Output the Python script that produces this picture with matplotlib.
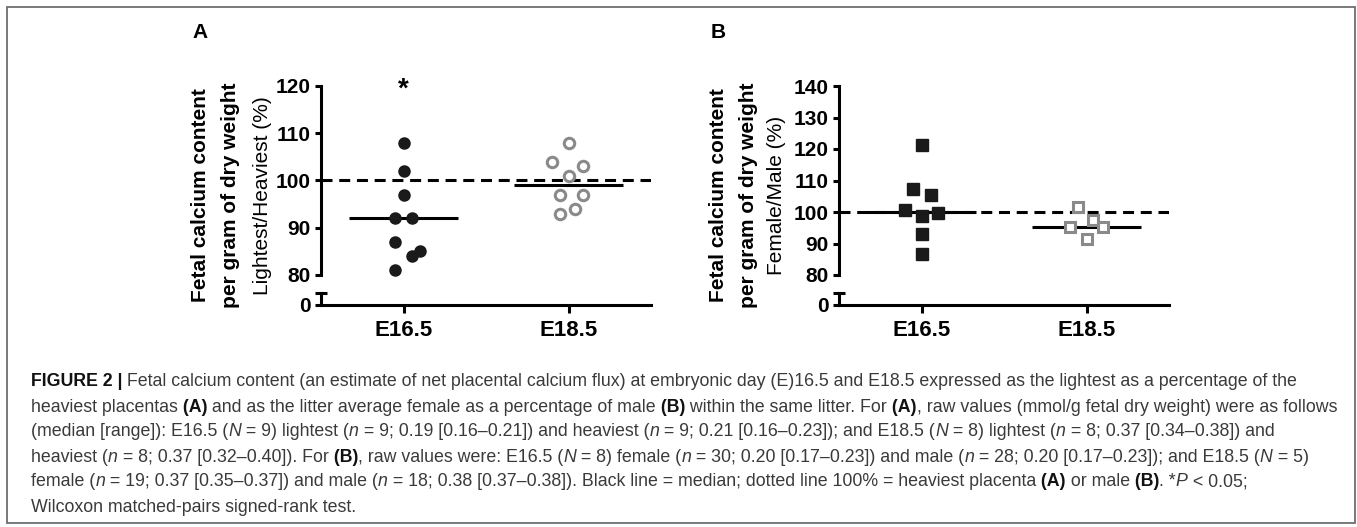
import numpy as np
import matplotlib
matplotlib.use('Agg')
from matplotlib import pyplot as plt
from matplotlib import font_manager
from matplotlib.patches import Rectangle

# Data (percent values)
CATEGORIES = ['E16.5', 'E18.5']
A_E165 = [108, 102, 97, 92, 92, 87, 84, 85, 81]
A_E185 = [108, 104, 103, 101, 97, 97, 94, 93]
B_E165 = [121.2, 107.3, 105.4, 100.7, 98.6, 99.6, 93, 86.8]
B_E185 = [101.5, 95.2, 97.6, 95.2, 91.5]

# horizontal scatter of the dots, in category units
A_E165_DX = [0, 0, 0, -0.05, 0.05, -0.05, 0.05, 0.1, -0.05]
A_E185_DX = [0, -0.1, 0.09, 0, -0.05, 0.09, 0.04, -0.05]
B_E165_DX = [0, -0.05, 0.055, -0.1, 0, 0.1, 0, 0]
B_E185_DX = [-0.05, -0.1, 0.04, 0.1, 0]

# Constants
W, H = 1357, 527
BLACK = '#1a1a1a'
GREY = '#8a8a8a'
TEXT_GREY = '#3a3a3a'

names = set(f.name for f in font_manager.fontManager.ttflist)
PANEL_FONT = 'Liberation Sans' if 'Liberation Sans' in names else 'DejaVu Sans'
CAPTION_FONT = PANEL_FONT
CAPTION_SIZE = 12.75

plt.rcParams['font.family'] = PANEL_FONT


def fx(px):
    return px / W


def fy(py):
    return 1 - py / H


def draw_panel(fig, left_px, ylim, yticks, groups, letter, ylabel_lines, ylabel_x):
    ax = fig.add_axes([fx(left_px), fy(275), 330 / W, (275 - 86) / H])
    axb = fig.add_axes([fx(left_px), fy(305), 330 / W, 12 / H])

    for a in (ax, axb):
        a.set_xlim(-0.5, 1.5)
        for s in ('top', 'right'):
            a.spines[s].set_visible(False)
        for s in ('left', 'bottom'):
            a.spines[s].set_linewidth(2.2)
        a.patch.set_alpha(0)

    ax.spines['bottom'].set_visible(False)
    ax.set_xticks([])
    ax.set_ylim(*ylim)
    ax.set_yticks(yticks)
    ax.tick_params(axis='y', direction='out', length=4.5, width=2.2, pad=3,
                   labelsize=15)
    for t in ax.get_yticklabels():
        t.set_fontweight('bold')

    axb.set_ylim(0, 1)
    axb.set_yticks([0])
    axb.set_xticks([0, 1])
    axb.set_xticklabels(CATEGORIES, fontsize=16, fontweight='bold')
    axb.tick_params(axis='y', direction='out', length=4.5, width=2.2, pad=3,
                    labelsize=15)
    axb.tick_params(axis='x', direction='out', length=5.5, width=2.2, pad=5)
    for t in axb.get_yticklabels():
        t.set_fontweight('bold')
    # cap at the top of the broken axis
    axb.plot([-0.018, 0.018], [1, 1], transform=axb.transAxes, color='black',
             lw=2.2, clip_on=False, solid_capstyle='butt')

    ax.axhline(100, color='black', lw=2.2, ls=(0, (3.6, 2.2)), zorder=1)

    for i, (values, dx, marker, filled) in enumerate(groups):
        xs = np.array(dx) + i
        med = np.median(values)
        ax.plot([i - 0.33, i + 0.33], [med, med], color='black', lw=2.2,
                solid_capstyle='butt', zorder=2)
        if filled:
            ax.plot(xs, values, marker, ms=8, color=BLACK, ls='none',
                    clip_on=False, zorder=3)
        else:
            ax.plot(xs, values, marker, ms=7.5, mfc='white', mec=GREY,
                    mew=2.2, ls='none', clip_on=False, zorder=3)

    fig.text(fx(ylabel_x[0]), fy(33), letter, fontsize=15, fontweight='bold',
             ha='center', va='center')
    weights = ['bold', 'bold', 'normal']
    for line, xp, wt in zip(ylabel_lines, ylabel_x, weights):
        fig.text(fx(xp), fy(195.5), line, rotation=90, fontsize=15,
                 fontweight=wt, ha='center', va='center')
    return ax


def draw_rich_line(fig, renderer, x_px, y_px, pieces):
    x = fx(x_px)
    for text, style in pieces:
        t = fig.text(x, fy(y_px), text, fontsize=CAPTION_SIZE,
                     family=CAPTION_FONT, va='center', ha='left',
                     color='#111111' if style == 'b' else TEXT_GREY,
                     fontweight='bold' if style == 'b' else 'normal',
                     fontstyle='italic' if style == 'i' else 'normal')
        bb = t.get_window_extent(renderer)
        x += bb.width / fig.bbox.width


CAPTION = [
    [('FIGURE 2 |', 'b'),
     (' Fetal calcium content (an estimate of net placental calcium flux) at embryonic day (E)16.5 and E18.5 expressed as the lightest as a percentage of the', 'r')],
    [('heaviest placentas', 'r'), (' (A)', 'b'),
     (' and as the litter average female as a percentage of male', 'r'), (' (B)', 'b'),
     (' within the same litter. For', 'r'), (' (A)', 'b'),
     (', raw values (mmol/g fetal dry weight) were as follows', 'r')],
    [('(median [range]): E16.5 (', 'r'), ('N', 'i'), (' = 9) lightest (', 'r'), ('n', 'i'),
     (' = 9; 0.19 [0.16\u20130.21]) and heaviest (', 'r'), ('n', 'i'),
     (' = 9; 0.21 [0.16\u20130.23]); and E18.5 (', 'r'), ('N', 'i'), (' = 8) lightest (', 'r'),
     ('n', 'i'), (' = 8; 0.37 [0.34\u20130.38]) and', 'r')],
    [('heaviest (', 'r'), ('n', 'i'), (' = 8; 0.37 [0.32\u20130.40]). For', 'r'), (' (B)', 'b'),
     (', raw values were: E16.5 (', 'r'), ('N', 'i'), (' = 8) female (', 'r'), ('n', 'i'),
     (' = 30; 0.20 [0.17\u20130.23]) and male (', 'r'), ('n', 'i'),
     (' = 28; 0.20 [0.17\u20130.23]); and E18.5 (', 'r'), ('N', 'i'), (' = 5)', 'r')],
    [('female (', 'r'), ('n', 'i'), (' = 19; 0.37 [0.35\u20130.37]) and male (', 'r'), ('n', 'i'),
     (' = 18; 0.38 [0.37\u20130.38]). Black line = median; dotted line 100% = heaviest placenta', 'r'),
     (' (A)', 'b'), (' or male', 'r'), (' (B)', 'b'), ('. *', 'r'), ('P', 'i'), (' < 0.05;', 'r')],
    [('Wilcoxon matched-pairs signed-rank test.', 'r')],
]

fig = plt.figure(figsize=(W / 100, H / 100), dpi=100)
fig.patches.append(Rectangle((fx(7), fy(523)), fx(1355) - fx(7), fy(7) - fy(523),
                             transform=fig.transFigure, fill=False,
                             edgecolor='#6e6e6e', lw=1.3))

ax_a = draw_panel(fig, 321, (80, 120), [80, 90, 100, 110, 120],
                  [(A_E165, A_E165_DX, 'o', True), (A_E185, A_E185_DX, 'o', False)],
                  'A', ['Fetal calcium content', 'per gram of dry weight',
                        'Lightest/Heaviest (%)'], [200, 231, 262])
ax_a.text(0, 119.3, '*', ha='center', va='center', fontsize=20, fontweight='bold')

draw_panel(fig, 839, (80, 140), [80, 90, 100, 110, 120, 130, 140],
           [(B_E165, B_E165_DX, 's', True), (B_E185, B_E185_DX, 's', False)],
           'B', ['Fetal calcium content', 'per gram of dry weight',
                 'Female/Male (%)'], [718, 748, 777])

renderer = fig.canvas.get_renderer()
for k, pieces in enumerate(CAPTION):
    draw_rich_line(fig, renderer, 31, 382 + 25 * k, pieces)

fig.savefig('out.png', dpi=100)
